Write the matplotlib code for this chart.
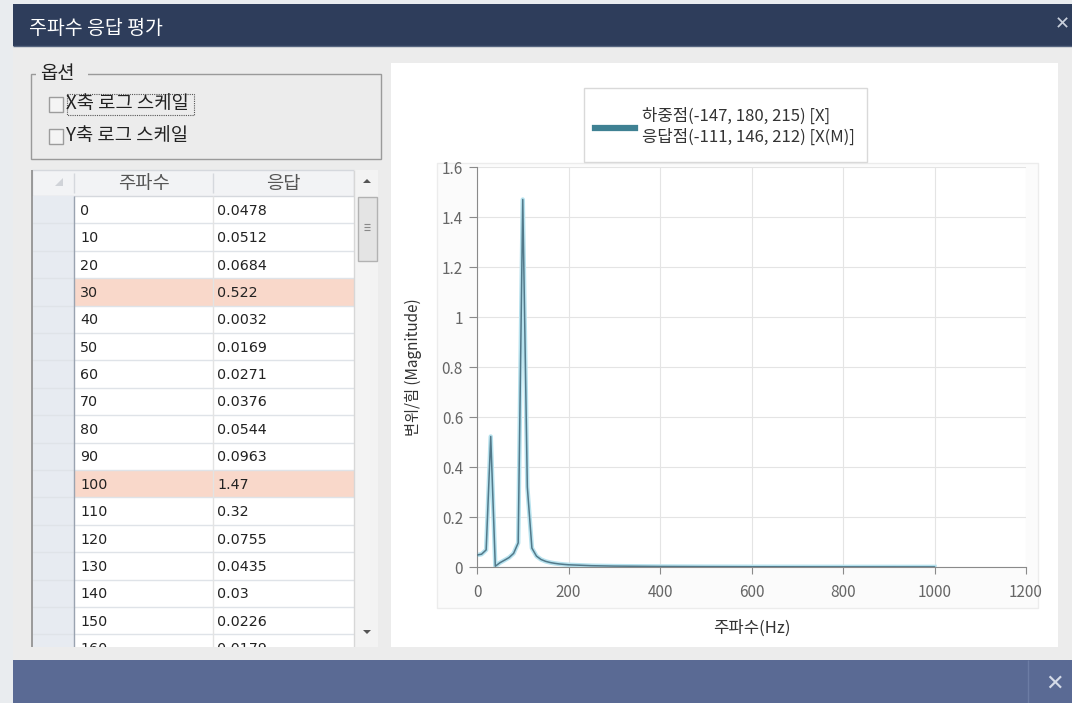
import matplotlib
matplotlib.use('Agg')
import matplotlib.pyplot as plt
from matplotlib.patches import Rectangle, Polygon

plt.rcParams['font.family'] = ['Noto Sans CJK KR', 'DejaVu Sans']

# 주파수 응답 데이터 (표 + 그래프)
freq = [0, 10, 20, 30, 40, 50, 60, 70, 80, 90, 100, 110, 120, 130, 140, 150, 160,
        170, 180, 190, 200, 250, 300, 400, 500, 600, 700, 800, 900, 1000]
resp = [0.0478, 0.0512, 0.0684, 0.522, 0.0032, 0.0169, 0.0271, 0.0376, 0.0544, 0.0963,
        1.47, 0.32, 0.0755, 0.0435, 0.03, 0.0226, 0.0179,
        0.0146, 0.0122, 0.0104, 0.0089, 0.0052, 0.0036, 0.0021, 0.0014, 0.0010,
        0.0008, 0.0006, 0.0005, 0.0004]
highlight = [30, 100]

title = '주파수 응답 평가'
col_names = ['주파수', '응답']
legend_label = '하중점(-147, 180, 215) [X]\n응답점(-111, 146, 212) [X(M)]'
xlabel = '주파수(Hz)'
ylabel = '변위/힘 (Magnitude)'
yticks = [0, 0.2, 0.4, 0.6, 0.8, 1, 1.2, 1.4, 1.6]
ytick_labels = ['0', '0.2', '0.4', '0.6', '0.8', '1', '1.2', '1.4', '1.6']
xticks = [0, 200, 400, 600, 800, 1000, 1200]

W, H = 1072, 703
fig = plt.figure(figsize=(W / 100, H / 100), dpi=100)
fig.patch.set_facecolor('#e9ecef')

ui = fig.add_axes([0, 0, 1, 1])
ui.set_xlim(0, W)
ui.set_ylim(H, 0)
ui.axis('off')


def box(x0, y0, x1, y1, z=1, **kw):
    ui.add_patch(Rectangle((x0, y0), x1 - x0, y1 - y0, zorder=z, **kw))


def line(xs, ys, z=3, **kw):
    ui.plot(xs, ys, zorder=z, solid_capstyle='butt', **kw)


# 창 틀
box(13, 4, W, 46, facecolor='#2e3d5b', edgecolor='none')
line([13, W], [45.5, 45.5], color='#56657f', lw=1)
ui.text(29, 29, title, color='white', fontsize=14, fontweight='medium', va='center', zorder=5)
ui.text(1062, 24, '✕', color='#c9d0dc', fontsize=13, ha='center', va='center',
        family=['DejaVu Sans'], zorder=5)
box(13, 46, W, 660, facecolor='#ececec', edgecolor='none')
box(13, 660, W, H, z=8, facecolor='#5a6a94', edgecolor='none')
line([1028, 1028], [660, H], z=9, color='#6c7ca4', lw=1)
ui.text(1055, 684, '✕', color='#d5dbe8', fontsize=16, ha='center', va='center',
        family=['DejaVu Sans'], zorder=9)

# 옵션 그룹
box(30.5, 73.5, 380.5, 158.5, facecolor='none', edgecolor='#9a9a9a', lw=1)
box(36, 64, 88, 84, z=2, facecolor='#ececec', edgecolor='none')
ui.text(40, 74, '옵션', fontsize=13.5, color='#222', va='center', zorder=5)
for cy, txt in [(104, 'X축 로그 스케일'), (136, 'Y축 로그 스케일')]:
    box(48.5, cy - 7.5, 62.5, cy + 7.5, z=4, facecolor='#f4f4f4', edgecolor='#9c9c9c', lw=1)
    ui.text(66, cy, txt, fontsize=13.5, color='#222', va='center', zorder=5)
box(66.5, 93.5, 193.5, 114.5, z=4, facecolor='none', edgecolor='#555', lw=0.8, ls=(0, (1, 1)))

# 표
tx0, tx1, tx2, tx3, tx4 = 32, 74, 213, 354, 378
ty0, head_h, row_h, ty_end = 170, 26, 27.4, 647
box(tx0, ty0, tx4, ty_end, facecolor='white', edgecolor='none')
box(tx0, ty0, tx3, ty0 + head_h, z=2, facecolor='#f2f3f5', edgecolor='#d5d8dd', lw=1)
ui.add_patch(Polygon([[63, 178], [63, 186], [55, 186]], closed=True, facecolor='#d0d3d8',
                     edgecolor='none', zorder=3))
for xc, name in zip([(tx1 + tx2) / 2, (tx2 + tx3) / 2], col_names):
    ui.text(xc, ty0 + head_h / 2, name, fontsize=13.5, color='#555', ha='center', va='center', zorder=5)
line([tx1, tx1], [ty0 + 3, ty0 + head_h - 3], color='#d5d8dd', lw=1)
line([tx2, tx2], [ty0 + 3, ty0 + head_h - 3], color='#d5d8dd', lw=1)

row0 = ty0 + head_h
box(tx0, row0, tx1, ty_end, z=2, facecolor='#e7ebf1', edgecolor='none')
for i, (f, r) in enumerate(zip(freq[:17], resp[:17])):
    yt = row0 + i * row_h
    if f in highlight:
        box(tx1, yt, tx3, yt + row_h, z=2, facecolor='#f9d8ca', edgecolor='none')
    line([tx0, tx3], [yt + row_h, yt + row_h], color='#dfe3e8', lw=1)
    ui.text(tx1 + 6, yt + row_h / 2 + 1, str(f), fontsize=10.3, color='#222', va='center',
            family=['DejaVu Sans'], zorder=5)
    ui.text(tx2 + 4, yt + row_h / 2 + 1, f'{r:g}', fontsize=10.3, color='#222', va='center',
            family=['DejaVu Sans'], zorder=5)
line([tx0, tx0], [ty0, ty_end], color='#8c8c8c', lw=1.2)
line([tx1, tx1], [row0, ty_end], color='#9aa3b0', lw=1)
line([tx2, tx2], [row0, ty_end], color='#e3e3e3', lw=1)
line([tx3, tx3], [ty0, ty_end], color='#d7d7d7', lw=1)

# 스크롤바
box(tx3, ty0, tx4, ty_end, z=2, facecolor='#f3f3f3', edgecolor='none')
ui.add_patch(Polygon([[363, 183], [371, 183], [367, 179]], closed=True, facecolor='#555',
                     edgecolor='none', zorder=5))
ui.add_patch(Polygon([[363, 630], [371, 630], [367, 634]], closed=True, facecolor='#555',
                     edgecolor='none', zorder=5))
box(357.5, 196.5, 376.5, 260.5, z=4, facecolor='#e4e4e4', edgecolor='#b2b2b2', lw=1)
for gy in [224, 227, 230]:
    line([364, 370], [gy, gy], z=5, color='#888', lw=0.8)

# 표 아래 잘림
box(13, ty_end, 390, 660, z=6, facecolor='#ececec', edgecolor='none')

# 그래프 패널
box(391, 63, 1058, 647, z=1, facecolor='white', edgecolor='none')
box(436.5, 162.5, 1037.5, 607.5, z=1.5, facecolor='#fbfbfb', edgecolor='#ececec', lw=1)
box(583.5, 87.5, 866.5, 161.5, z=1.6, facecolor='white', edgecolor='#d9d9d9', lw=1)

ax = fig.add_axes([477 / W, (H - 567) / H, (1026 - 477) / W, (567 - 167) / H])
ax.set_facecolor('white')
ax.plot(freq, resp, color='#b7e2ee', lw=3.2, zorder=2, solid_joinstyle='round')
ax.plot(freq, resp, color='#52798a', lw=1.1, zorder=3, label=legend_label)
ax.set_xlim(0, 1200)
ax.set_ylim(0, 1.6)
ax.set_xticks(xticks)
ax.set_yticks(yticks)
ax.set_yticklabels(ytick_labels)
ax.grid(True, color='#e4e4e4', lw=0.8)
ax.set_axisbelow(True)
for s in ['top', 'right']:
    ax.spines[s].set_visible(False)
for s in ['left', 'bottom']:
    ax.spines[s].set_color('#8a8a8a')
ax.tick_params(colors='#8a8a8a', labelcolor='#666', labelsize=11, length=6, pad=4)
ax.tick_params(axis='x', length=5, pad=7)
ax.set_xlabel(xlabel, fontsize=12, color='#333', labelpad=14)
ax.set_ylabel(ylabel, fontsize=11, color='#333', labelpad=14)

leg_line = ax.get_lines()[1]
lg = ax.legend([leg_line], [legend_label], loc='center left', bbox_to_anchor=(595 / W, 1 - 127 / H),
               bbox_transform=fig.transFigure, fontsize=12, frameon=False,
               handlelength=2.4, handletextpad=0.42, borderpad=0, borderaxespad=0, labelspacing=0)
for t in lg.get_texts():
    t.set_color('#333')
    t.set_linespacing(1.3)
lg.legend_handles[0].set_linewidth(4.5)
lg.legend_handles[0].set_color('#3f8193')

fig.savefig('out.png', dpi=100)
